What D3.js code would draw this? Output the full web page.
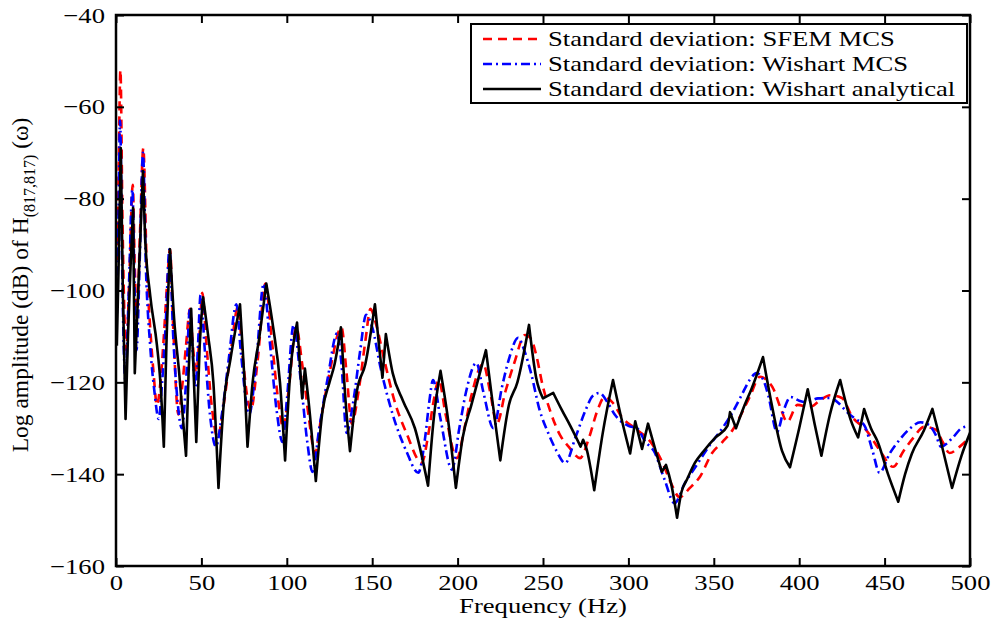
<!DOCTYPE html>
<html lang="en">
  <head>
    <meta charset="utf-8">
    <title>Standard deviation of H(817,817)</title>
    <style>
      body { margin: 0; background: #fff; }
      text { font-family: "Liberation Serif", "DejaVu Serif", serif; }
    </style>
  </head>
  <body>
    <script src="https://cdn.jsdelivr.net/npm/d3@7"></script>
    <script>
      // frequency (Hz) and log amplitude (dB)
      var sfemFreq = [0.5,1.5,2.6,3.8,6,8,9.8,11,12.2,14,16,18,20,22,24,26,28,30,31.6,33.5,36.5,39,41,43.3,45,47,49,50.5,53,56,59.5,63,67,71.5,74,79,83,87.5,91,95,98,101,105.5,109,113,116.5,120,125,132,135,138,142,146,149,152,157,163,170,179,183,186,189,193,199.6,204,208,215,219,223,228,233,239.5,243,246,250,254,260,265,271.7,277,282,286,291,296,305,313,320,325,330,336,342,349,355,361,366,371,377,381,385,389,393,399,406,412,418,425,431,439,447,455,461,467,473,480,484,488,494,500];
      var sfemDb = [-100,-75,-52,-85,-113,-95,-77,-95,-106,-88,-69,-95,-108,-118,-125,-120,-110,-98,-91,-108,-127,-120,-112,-104,-112,-118,-109,-100.5,-112,-125,-132,-125,-114,-103.5,-114,-126,-115,-98.5,-110,-124,-130,-122,-108,-116,-128,-135.5,-128,-118,-108,-118,-129,-122,-111,-104,-107,-115,-124,-131,-137.5,-131,-124,-119.5,-127,-136.5,-130,-123,-116,-122,-129,-122,-116,-109.7,-110.5,-114,-121,-126,-131.5,-134,-136.5,-132,-126,-123.2,-124.5,-127.5,-130.3,-133,-137.5,-142,-145,-143,-140.5,-135.4,-133,-130.4,-127,-123.2,-118.8,-119.5,-121.5,-125.5,-128.6,-124.9,-125.4,-124,-122.8,-123.4,-127.5,-130.3,-134.7,-138.4,-135,-132,-129.7,-130.3,-133,-135.4,-134,-131.9];

      var wishFreq = [0.5,1.4,2.4,3.6,5.5,7.5,9.6,10.8,12,14,15.8,17.5,20,22.5,25,27,29,31.3,33.5,36,38.6,41,43.3,45,46.5,48,49.5,52,55,58.5,62,66,70.5,73,78,82,86.5,90,94,97.5,100,104,108,112,115,119,124,129.5,132,135,139,143,146.4,150,155,162,170,177,181,183.5,185.6,190,196.7,201,205,211,215,221,226,230,235.5,239,243,248,253,258,263,269,275,279,283,288,292,300,305,310,315,321,327,333,340,347,355,361,366,371,375,379,382,387,391,395,400,404,411,418,423,428,433,438,443,447,453,459,465,471,476,480,483,490,495,500];
      var wishDb = [-105,-85,-63,-95,-119.5,-100,-78,-98,-113,-92,-70,-95,-112,-122,-128,-120,-108,-91,-110,-124,-130,-120,-104,-114,-121,-112,-101,-113,-127,-134,-127,-115,-103,-113,-127,-116,-98.5,-111,-126,-133,-124,-107.5,-119,-133,-139.5,-130,-119,-109.3,-116,-131,-124,-113,-105.3,-108,-117,-127,-135,-139.7,-132,-124,-119.5,-128,-139,-130,-122,-115.8,-122,-130,-121,-115,-110.3,-113,-118,-126,-131,-135,-137.6,-132,-126,-123,-122.3,-124.5,-127,-129.5,-130,-133,-135,-141,-146.3,-142,-138,-134,-130,-126.5,-123,-119.5,-118,-119.5,-123,-130.8,-126,-123.2,-124,-124.3,-123.5,-123.4,-124.5,-126.5,-128,-129.3,-135,-139.7,-135.5,-132.4,-130,-128.7,-129.3,-131.5,-134,-132,-130,-129.5];

      var anaFreq = [0.5,1.5,2.8,4,5.6,7,8.5,10,11,13,15.8,17,20,24,26,28,29.5,31.6,34,37,41,42.5,44,47,49,51,54,57,60,63,67,72.6,75,77,80,84,88,92,96,99,102,106,109,110.6,113,117,121,125,128,131.7,134,137,141,146,151.6,154,156,158,162,168,175,182.7,186,190,194,199,203,208,216.6,220,225,230,235,241.8,246,250,256,261,266,272,273.5,275.5,280,285,291,296,301,304,308,311.5,316,319.6,322,325,328.5,331,334.5,339,344,351,358,359.5,363,368,372,378.8,384,390,394.6,400,405,409,413,418,424,430,434.5,438,442,446,452,458,462,466,473,478,483,489.5,495,500];
      var anaDb = [-112,-95,-69,-100,-128,-110,-95,-82,-118,-100,-74,-88,-101,-112,-120,-134,-112,-91,-106,-118,-136,-118,-104,-133,-112,-101.5,-110,-120,-143,-125,-115,-103,-118,-134,-120,-110,-98.5,-108,-120,-137,-118,-107,-123.5,-117,-125,-141.5,-126,-120,-116,-108,-122,-135,-122,-116,-103,-112,-119,-109.5,-118,-124,-130,-142.5,-128,-117.5,-127,-143,-132,-125,-113,-123,-137,-125,-120,-107.5,-119,-123.5,-122.3,-126,-129.5,-134,-132.5,-134.5,-143.5,-131,-119.5,-128,-135.5,-128.5,-134.5,-129,-135,-139.5,-138,-142,-149.5,-144,-141,-137.5,-135,-132,-129.5,-126.5,-130,-125,-121.5,-114.5,-125,-135,-138.5,-130,-121.5,-129,-136,-127,-119.5,-128,-132,-125.8,-130,-133,-140,-146,-140,-135.5,-130.5,-125.8,-133,-143,-136,-131];

      var xTicks = [0,50,100,150,200,250,300,350,400,450,500];
      var yTicks = [-160,-140,-120,-100,-80,-60,-40];
      var legendLabels = ["Standard deviation: SFEM MCS",
                          "Standard deviation: Wishart MCS",
                          "Standard deviation: Wishart analytical"];

      var width = 994, height = 622;
      var margin = {top: 15, right: 24, bottom: 56, left: 116};
      var stretch = 1.21; // the original figure's text is drawn wide

      var svg = d3.select("body").append("svg")
          .attr("width", width)
          .attr("height", height);

      var x = d3.scaleLinear().domain([0, 500]).range([margin.left, width - margin.right]);
      var y = d3.scaleLinear().domain([-160, -40]).range([height - margin.bottom, margin.top]);

      // sharp: split at every peak/notch so the curve keeps its cusps there
      var series = [
        {f: sfemFreq, v: sfemDb, color: "#ff0000", dash: "9,6", sharp: false},
        {f: wishFreq, v: wishDb, color: "#0000ff", dash: "9,4,2,4", sharp: false},
        {f: anaFreq, v: anaDb, color: "#000000", dash: null, sharp: true}
      ];

      function pathFor(s) {
        var pts = s.f.map(function(f, i) { return [f, s.v[i]]; });
        var line = d3.line().x(d => x(d[0])).y(d => y(d[1])).curve(d3.curveMonotoneX);
        if (!s.sharp) return line(pts);
        var cuts = [0];
        for (var i = 1; i < pts.length - 1; i++) {
          var a = pts[i][1] - pts[i - 1][1], b = pts[i + 1][1] - pts[i][1];
          if (a * b < 0) cuts.push(i);
        }
        cuts.push(pts.length - 1);
        var d = "";
        for (var k = 0; k < cuts.length - 1; k++) {
          var seg = line(pts.slice(cuts[k], cuts[k + 1] + 1));
          d += (k === 0) ? seg : seg.replace(/^M[^CLM]*/, "");
        }
        return d;
      }

      svg.append("defs").append("clipPath").attr("id", "plotclip")
        .append("rect")
          .attr("x", margin.left).attr("y", margin.top)
          .attr("width", x(500) - x(0)).attr("height", y(-160) - y(-40));

      var plot = svg.append("g").attr("clip-path", "url(#plotclip)");
      series.forEach(function(s) {
        plot.append("path")
          .attr("d", pathFor(s))
          .attr("fill", "none")
          .attr("stroke", s.color)
          .attr("stroke-width", 2.6)
          .attr("stroke-linejoin", "round")
          .attr("stroke-dasharray", s.dash);
      });

      // axes with inward ticks on all four sides
      var tick = 8;
      svg.append("g")
          .attr("transform", `translate(0,${y(-160)})`)
          .call(d3.axisBottom(x).tickValues(xTicks).tickSizeInner(-tick).tickSizeOuter(0).tickPadding(8))
          .call(g => g.select(".domain").remove());
      svg.append("g")
          .attr("transform", `translate(0,${y(-40)})`)
          .call(d3.axisTop(x).tickValues(xTicks).tickSizeInner(-tick).tickSizeOuter(0).tickFormat(""))
          .call(g => g.select(".domain").remove());
      svg.append("g")
          .attr("transform", `translate(${x(0)},0)`)
          .call(d3.axisLeft(y).tickValues(yTicks).tickSizeInner(-tick).tickSizeOuter(0).tickPadding(11))
          .call(g => g.select(".domain").remove());
      svg.append("g")
          .attr("transform", `translate(${x(500)},0)`)
          .call(d3.axisRight(y).tickValues(yTicks).tickSizeInner(-tick).tickSizeOuter(0).tickFormat(""))
          .call(g => g.select(".domain").remove());

      svg.selectAll(".tick line").attr("stroke", "#000").attr("stroke-width", 2);
      svg.selectAll(".tick text")
          .attr("fill", "#000")
          .style("font-size", "22px")
          .style("font-family", "'Liberation Serif', serif");

      svg.append("rect")
          .attr("x", x(0)).attr("y", y(-40))
          .attr("width", x(500) - x(0)).attr("height", y(-160) - y(-40))
          .attr("fill", "none").attr("stroke", "#000").attr("stroke-width", 2.5);

      // axis titles
      svg.append("text")
          .attr("class", "wide")
          .attr("x", 543)
          .attr("y", 613)
          .attr("text-anchor", "middle")
          .style("font-size", "22px")
          .text("Frequency (Hz)");

      var yl = svg.append("text")
          .attr("transform", "translate(28,285) rotate(-90)")
          .attr("text-anchor", "middle")
          .style("font-size", "23.5px");
      yl.append("tspan").text("Log amplitude (dB) of H");
      yl.append("tspan").attr("dy", 7).style("font-size", "16px").text("(817,817)");
      yl.append("tspan").attr("dy", -7).text(" (\u03c9)");

      // legend
      var lg = svg.append("g");
      lg.append("rect")
          .attr("x", 471).attr("y", 24).attr("width", 496).attr("height", 79)
          .attr("fill", "#fff").attr("stroke", "#000").attr("stroke-width", 2);
      legendLabels.forEach(function(label, i) {
        var ly = 39 + i * 25;
        lg.append("line")
            .attr("x1", 483).attr("x2", 541).attr("y1", ly).attr("y2", ly)
            .attr("stroke", series[i].color).attr("stroke-width", 2.6)
            .attr("stroke-dasharray", series[i].dash);
        lg.append("text")
            .attr("class", "wide")
            .attr("x", 548).attr("y", ly + 7)
            .style("font-size", "22px")
            .text(label);
      });

      // widen the horizontal texts like the original
      svg.selectAll(".tick text, text.wide").each(function() {
        var w = this.getComputedTextLength();
        if (w > 0) d3.select(this).attr("textLength", w * stretch).attr("lengthAdjust", "spacingAndGlyphs");
      });
    </script>
  </body>
</html>
